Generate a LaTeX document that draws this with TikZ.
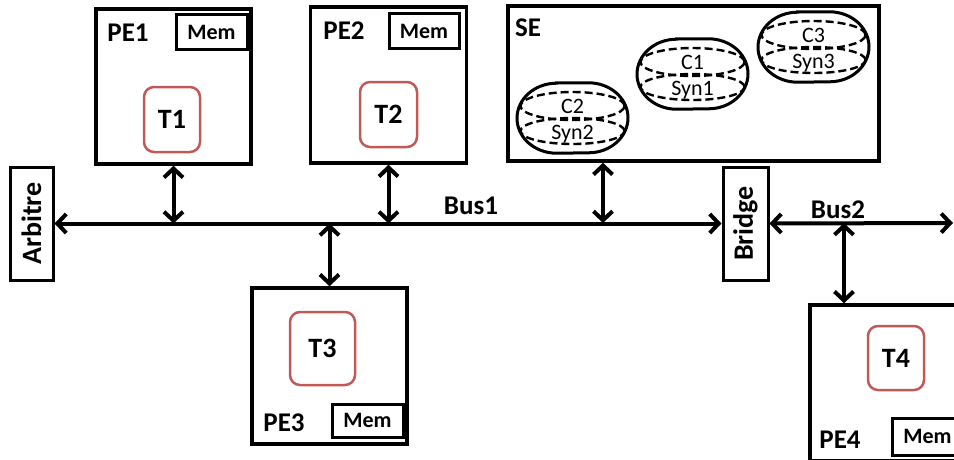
\documentclass[tikz,border=0pt]{standalone}
\usepackage{fontspec}
\setmainfont{Carlito}
\usetikzlibrary{arrows.meta,calc}
\definecolor{tred}{RGB}{192,90,88}
\tikzset{
  x=1pt,y=-1pt,
  pebox/.style={draw,line width=3.5pt,minimum width=155pt,minimum height=155pt,inner sep=0pt},
  membox/.style={draw,line width=3pt,minimum width=71pt,minimum height=35pt,inner sep=0pt,font=\fontsize{22}{22}\selectfont\bfseries},
  taskbox/.style={draw=tred,line width=2.5pt,rounded corners=10pt,minimum width=56pt,minimum height=65pt,inner sep=0pt,font=\fontsize{28}{28}\selectfont\bfseries},
  lbl/.style={font=\fontsize{27}{27}\selectfont\bfseries,inner sep=0pt},
  vbox/.style={draw,line width=3pt,minimum width=113pt,minimum height=44pt,inner sep=0pt,rotate=90,font=\fontsize{28}{28}\selectfont\bfseries},
  grp/.style={minimum width=111pt,minimum height=70pt,inner sep=0pt},
  grpline/.style={draw,line width=3pt},
  dsh/.style={draw,line width=2.4pt,dash pattern=on 8pt off 4pt},
  glbl/.style={font=\fontsize{22}{22}\selectfont,inner sep=0pt,anchor=base},
  conn/.style={line width=4pt,{Straight Barb[length=9pt,width=19pt,line width=4pt]}-{Straight Barb[length=9pt,width=19pt,line width=4pt]}},
}
\begin{document}
\begin{tikzpicture}
\useasboundingbox (0,0) rectangle (954,459);
\clip (0,0) rectangle (954,459);
% PE boxes
\node[pebox] (pe1) at (173.5,86.5) {};
\node[pebox,minimum width=156pt,minimum height=156pt] (pe2) at (388.5,85) {};
\node[pebox,minimum width=155pt,minimum height=156pt] (pe3) at (329.5,366) {};
\node[pebox,minimum width=155pt,minimum height=156pt] (pe4) at (887.5,383) {};
\node[pebox,minimum width=371pt,minimum height=155pt] (se) at (693.5,83.5) {};
% labels
\node[lbl] (l1) at (128,33) {PE1};
\node[lbl] (l2) at (344,31) {PE2};
\node[lbl] (l3) at (284,423) {PE3};
\node[lbl] (l4) at (840,440) {PE4};
\node[lbl] (lse) at (528,28) {SE};
% mem
\node[membox] (m1) at (211.5,32) {Mem};
\node[membox,minimum width=70pt] (m2) at (424,31) {Mem};
\node[membox,minimum height=33pt] (m3) at (367.5,420.5) {Mem};
\node[membox,minimum height=37pt] (m4) at (927.5,436.5) {Mem};
% tasks
\node[taskbox] (t1) at (172,119.5) {T1};
\node[taskbox,minimum width=57pt] (t2) at (388.5,114.5) {T2};
\node[taskbox,minimum width=65pt,minimum height=73pt] (t3) at (322.5,348.5) {T3};
\node[taskbox,minimum height=64pt] (t4) at (896,358) {T4};
% SE groups
\foreach \n/\c/\s/\px/\py in {g2/C2/Syn2/572.5/118, g1/C1/Syn1/692.5/74, g3/C3/Syn3/813.5/47}{
  \node[grp] (\n) at (\px,\py) {};
  \draw[grpline] ($(\n.north)+(-16,0)$) -- ($(\n.north)+(16,0)$)
     arc[start angle=90,end angle=-90,x radius=39.5pt,y radius=35pt]
     -- ($(\n.south)+(-16,0)$)
     arc[start angle=270,end angle=90,x radius=39.5pt,y radius=35pt] -- cycle;
  \draw[dsh] ($(\n.center)+(0,-12)$) ellipse [x radius=52pt,y radius=14pt];
  \draw[dsh] ($(\n.center)+(0,13)$) ellipse [x radius=52pt,y radius=13pt];
  \node[glbl] (\n c) at ($(\n.center)+(0,-5)$) {\c};
  \node[glbl] (\n s) at ($(\n.center)+(0,21)$) {\s};
}
% arbitre & bridge
\node[vbox,minimum height=43pt] (arb) at (31.5,223.5) {Arbitre};
\node[vbox,minimum height=45pt] (br) at (745.5,223.5) {Bridge};
\coordinate (b2end) at (953,223);
% buses
\draw[conn] (arb.south) -- (br.north);
\draw[conn] (br.south) -- (b2end);
\node[lbl] (bus1) at (471,206) {Bus1};
\node[lbl] (bus2) at (838,210) {Bus2};
% taps
\coordinate (k1) at (pe1.south |- arb.center);
\coordinate (k2) at (pe2.south |- arb.center);
\coordinate (k3) at (pe3.north |- arb.center);
\coordinate (k4) at (603,223);
\coordinate (k5) at (844,223);
\draw[conn] (pe1.south) -- (k1);
\draw[conn] (pe2.south) -- (k2);
\draw[conn] (pe3.north) -- (k3);
\draw[conn] (se.south -| k4) -- (k4);
\draw[conn] (k5) -- (pe4.north -| k5);
\end{tikzpicture}
\end{document}
